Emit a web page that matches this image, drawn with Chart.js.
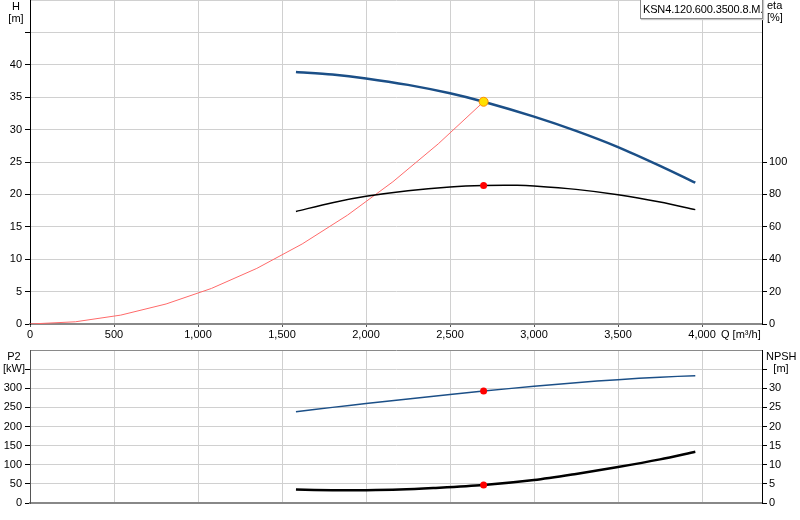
<!DOCTYPE html>
<html><head><meta charset="utf-8">
<script src="https://cdn.jsdelivr.net/npm/chart.js@4"></script>
<style>
html,body{margin:0;padding:0;background:#fff;width:800px;height:520px;overflow:hidden;font-family:"Liberation Sans",Arial,sans-serif;}
#top{position:absolute;left:0;top:0;}
#bot{position:absolute;left:0;top:345px;}
.lbl{position:absolute;font-size:11px;line-height:12px;color:#000;white-space:nowrap}
#legend{position:absolute;left:640px;top:-1px;width:123px;height:20px;border:1px solid #8a8a8a;background:#fff;font-size:11px;letter-spacing:-0.15px;line-height:19px;padding-left:2px;overflow:hidden;white-space:nowrap;box-sizing:border-box;box-shadow:1px 1px 1px #c8c8c8;color:#000}
</style></head>
<body>
<canvas id="top" width="800" height="345"></canvas>
<canvas id="bot" width="800" height="175"></canvas>
<div class="lbl" style="left:0;top:0;width:32px;text-align:center">H<br>[m]</div>
<div class="lbl" style="left:767px;top:-1px;">eta<br>[%]</div>
<div class="lbl" style="left:721px;top:328px;">Q [m³/h]</div>
<div class="lbl" style="left:0;top:350px;width:28px;text-align:center">P2<br>[kW]</div>
<div class="lbl" style="left:766px;top:350px;width:30px;text-align:center">NPSH<br>[m]</div>
<div id="legend">KSN4.120.600.3500.8.M.</div>
<script>
// ---- data ----
const qMax = 4357;
const qTicks = [0, 500, 1000, 1500, 2000, 2500, 3000, 3500, 4000];
const qH = [1583, 1800, 2000, 2250, 2500, 2700, 3000, 3250, 3500, 3750, 3960];
const hVals = [38.9, 38.5, 37.9, 36.9, 35.6, 34.3, 32.0, 29.8, 27.3, 24.4, 21.8];
const qSys = [0, 270, 540, 810, 1080, 1350, 1620, 1890, 2160, 2430, 2700];
const hSys = [0, 0.34, 1.37, 3.09, 5.49, 8.58, 12.35, 16.8, 21.95, 27.8, 34.3];
const qEta = [1583, 1800, 2000, 2250, 2500, 2700, 2900, 3000, 3250, 3500, 3750, 3960];
const etaVals = [69.5, 74.9, 78.8, 82.3, 84.6, 85.5, 85.6, 85.2, 83.1, 79.8, 75.3, 70.6];
const qP2 = [1583, 1800, 2000, 2250, 2500, 2700, 3000, 3250, 3500, 3750, 3960];
const p2Vals = [238.7, 250, 260, 272, 283.5, 292.8, 305, 314.5, 322.5, 329, 332.9];
const qNpsh = [1583, 1800, 2000, 2200, 2400, 2700, 3000, 3250, 3500, 3750, 3960];
const npshVals = [3.5, 3.35, 3.35, 3.5, 3.9, 4.7, 6.0, 7.6, 9.4, 11.4, 13.4];
const dutyQ = 2700, dutyH = 34.3, dutyEta = 85.5, dutyP2 = 292.8, dutyNpsh = 4.7;

const pts = (xs, ys) => xs.map((x, i) => ({x: x, y: ys[i]}));
const FONT = {family: '"Liberation Sans", Arial, sans-serif', size: 11};
const GRID = '#d0d0d0';
function fixW(w){ return s => { s.width = w; s.paddingLeft = s.paddingRight = s.paddingTop = s.paddingBottom = 0; }; }
function fixH(h){ return s => { s.height = h; s.paddingLeft = s.paddingRight = s.paddingTop = s.paddingBottom = 0; }; }
const setQTicks = s => { s.ticks = qTicks.map(v => ({value: v})); };
const hideAbove = lim => (ctx => (ctx.tick && ctx.tick.value > lim) ? 'rgba(0,0,0,0)' : '#000');

Chart.defaults.animation = false;
Chart.defaults.font = FONT;

new Chart(document.getElementById('top'), {
  type: 'line',
  data: { datasets: [
    { data: [{x: dutyQ, y: dutyH}], yAxisID: 'h', showLine: false, pointRadius: 4.5, pointBackgroundColor: '#ffe000', pointBorderColor: '#ff8c00', pointBorderWidth: 1 },
    { data: [{x: dutyQ, y: dutyEta}], yAxisID: 'eta', showLine: false, pointRadius: 3.5, pointBackgroundColor: '#ff0000', pointBorderColor: '#ff0000', pointBorderWidth: 0 },
    { data: pts(qH, hVals), yAxisID: 'h', borderColor: '#1b4f87', borderWidth: 2.5, pointRadius: 0, tension: 0.3 },
    { data: pts(qEta, etaVals), yAxisID: 'eta', borderColor: '#000', borderWidth: 1.5, pointRadius: 0, tension: 0.3 },
    { data: pts(qSys, hSys), yAxisID: 'h', borderColor: '#ff6a6a', borderWidth: 1, pointRadius: 0, tension: 0 }
  ]},
  options: {
    responsive: false, animation: false,
    layout: { padding: 0, autoPadding: false },
    plugins: { legend: {display: false}, tooltip: {enabled: false} },
    scales: {
      x: { type: 'linear', min: 0, max: qMax, position: 'bottom',
        afterFit: fixH(21),
        afterBuildTicks: setQTicks,
        ticks: { maxRotation: 0, autoSkip: false, padding: 1, color: '#000', font: FONT },
        grid: { color: GRID, tickLength: 3, tickColor: '#555' },
        border: { color: '#888', width: 2 } },
      h: { type: 'linear', position: 'left', min: 0, max: 50,
        afterFit: fixW(30),
        ticks: { stepSize: 5, padding: 3, color: '#000', font: FONT, callback: v => v > 40 ? '' : v },
        grid: { color: GRID, tickLength: 5, tickColor: hideAbove(45) },
        border: { color: '#000', width: 1 } },
      eta: { type: 'linear', position: 'right', min: 0, max: 200,
        afterFit: fixW(38),
        ticks: { stepSize: 20, padding: 2, color: '#000', font: FONT, callback: v => v > 100 ? '' : v },
        grid: { drawOnChartArea: false, tickLength: 5, tickColor: hideAbove(100) },
        border: { color: '#000', width: 1 } }
    }
  }
});

new Chart(document.getElementById('bot'), {
  type: 'line',
  data: { datasets: [
    { data: [{x: dutyQ, y: dutyP2}], yAxisID: 'p2', showLine: false, pointRadius: 3.5, pointBackgroundColor: '#ff0000', pointBorderColor: '#ff0000', pointBorderWidth: 0 },
    { data: [{x: dutyQ, y: dutyNpsh}], yAxisID: 'npsh', showLine: false, pointRadius: 3.5, pointBackgroundColor: '#ff0000', pointBorderColor: '#ff0000', pointBorderWidth: 0 },
    { data: pts(qP2, p2Vals), yAxisID: 'p2', borderColor: '#1b4f87', borderWidth: 1.5, pointRadius: 0, tension: 0.3 },
    { data: pts(qNpsh, npshVals), yAxisID: 'npsh', borderColor: '#000', borderWidth: 2.5, pointRadius: 0, tension: 0.3 }
  ]},
  options: {
    responsive: false, animation: false,
    layout: { padding: {top: 5, left: 0, right: 0, bottom: 0}, autoPadding: false },
    plugins: { legend: {display: false}, tooltip: {enabled: false} },
    scales: {
      x: { type: 'linear', min: 0, max: qMax, position: 'bottom',
        afterFit: fixH(17),
        afterBuildTicks: setQTicks,
        ticks: { display: false },
        grid: { color: GRID, drawTicks: false },
        border: { color: '#888', width: 2 } },
      p2: { type: 'linear', position: 'left', min: 0, max: 400,
        afterFit: fixW(30),
        ticks: { stepSize: 50, padding: 3, color: '#000', font: FONT, callback: v => v > 300 ? '' : v },
        grid: { color: ctx => (ctx.tick && ctx.tick.value >= 400) ? '#8a8a8a' : GRID, tickLength: 5, tickColor: hideAbove(350) },
        border: { color: '#555', width: 1 } },
      npsh: { type: 'linear', position: 'right', min: 0, max: 40,
        afterFit: fixW(38),
        ticks: { stepSize: 5, padding: 2, color: '#000', font: FONT, callback: v => v > 30 ? '' : v },
        grid: { drawOnChartArea: false, tickLength: 5, tickColor: hideAbove(35) },
        border: { color: '#000', width: 1 } }
    }
  }
});
</script>
</body></html>
